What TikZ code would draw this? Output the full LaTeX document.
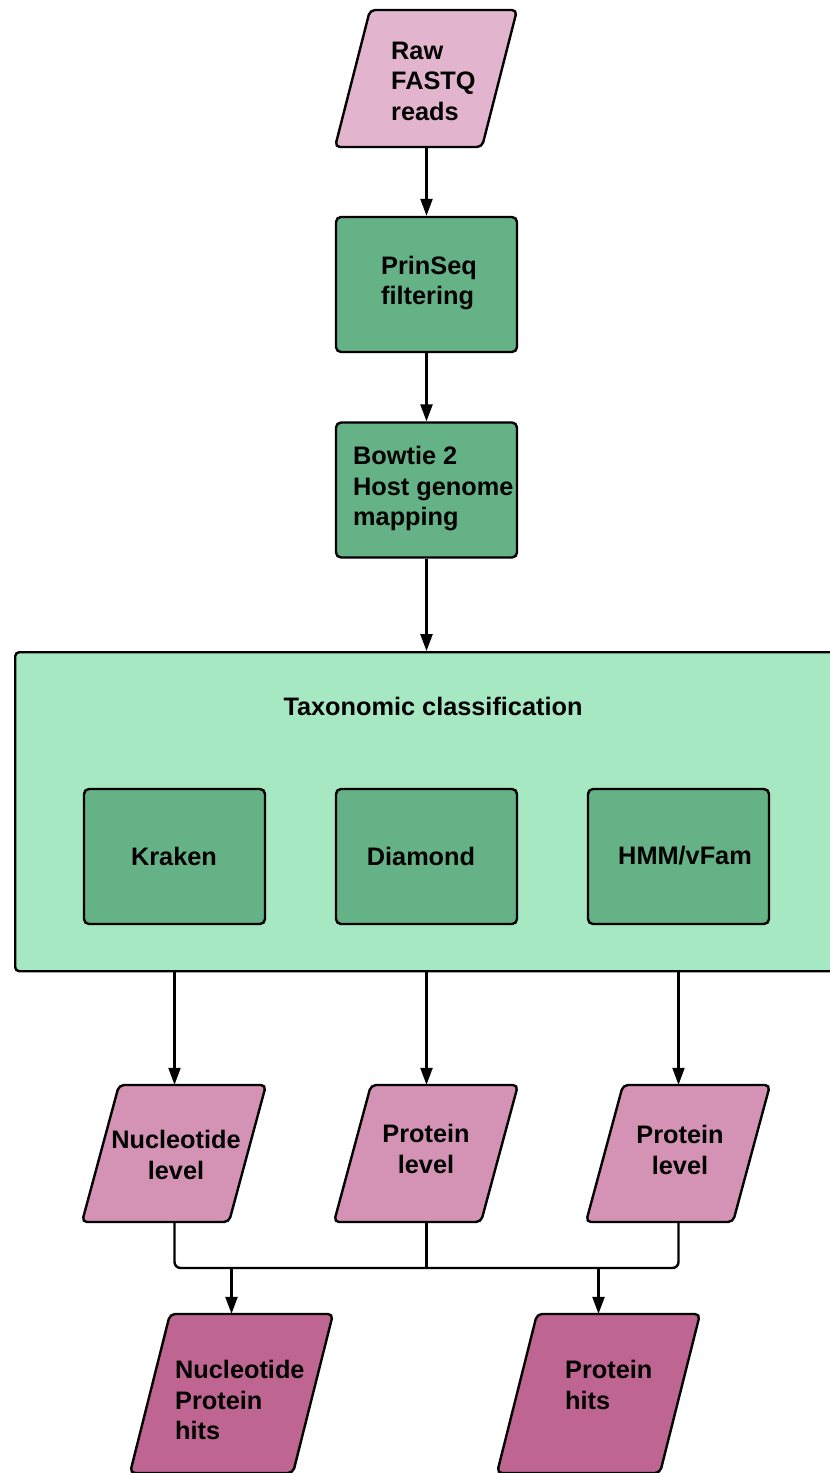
\documentclass[tikz,border=0pt]{standalone}
\usepackage{fontspec}
\setmainfont{Liberation Sans}
\usetikzlibrary{arrows.meta}
\definecolor{rawc}{HTML}{E2B4CD}
\definecolor{boxc}{HTML}{64B285}
\definecolor{taxc}{HTML}{A6E8C2}
\definecolor{midc}{HTML}{D493B5}
\definecolor{hitc}{HTML}{BF6592}
\newcommand{\paraShape}[6]{%
  \path[draw=black, line width=2.4pt, rounded corners=5pt, fill=#6]
    ({#1-#3/2+#5/2},{#2-#4/2}) -- ({#1+#3/2+#5/2},{#2-#4/2}) --
    ({#1+#3/2-#5/2},{#2+#4/2}) -- ({#1-#3/2-#5/2},{#2+#4/2}) -- cycle;}
\tikzset{
  box/.style={draw=black, line width=2.4pt, rounded corners=5pt, fill=boxc,
    minimum width=181pt, minimum height=135pt, inner sep=0pt},
  anch/.style 2 args={inner sep=0pt, minimum width=#1, minimum height=#2},
  lbl/.style={font=\fontsize{25.3}{30.5}\selectfont\bfseries, inner sep=0pt, align=left},
  arr/.style={line width=2.4pt, -{Triangle[length=17pt,width=12pt]}},
  arrthin/.style={line width=2.1pt, -{Triangle[length=17pt,width=12pt]}},
  conn/.style={line width=2.4pt},
}
\begin{document}
\begin{tikzpicture}[x=1pt,y=-1pt]
\useasboundingbox (0,0) rectangle (830,1473);
\clip (0,0) rectangle (830,1473);
\fill[white] (0,0) rectangle (830,1473);

% raw reads
\paraShape{426}{78.5}{147}{137}{35}{rawc}
\node[anch={147pt}{137pt}] (raw) at (426.5,78.5) {};
\node[lbl, anchor=west] (rawtxt) at (391,81) {Raw\\FASTQ\\reads};

% processing boxes
\node[box] (prin) at (426.5,284.5) {};
\node[lbl, anchor=west] (printxt) at (381,283) {PrinSeq\\filtering};
\node[box] (bow) at (426.5,490) {};
\node[lbl, anchor=west] (bowtxt) at (353,489) {Bowtie 2\\Host genome\\mapping};

% taxonomic classification
\node[draw=black, line width=2.4pt, rounded corners=4pt, fill=taxc, inner sep=0pt,
  minimum width=850pt, minimum height=319pt, anchor=north west] (tax) at (14,651) {};
\node[lbl] (taxtxt) at (433,706) {Taxonomic classification};
\node[box] (kraken) at (174.5,856.5) {};
\node[lbl] at (174,856) {Kraken};
\node[box] (diamond) at (426.5,856.5) {};
\node[lbl] at (421,856) {Diamond};
\node[box] (hmm) at (678.5,856.5) {};
\node[lbl] at (685,856) {HMM/vFam};

% middle outputs
\paraShape{174}{1153.5}{147}{137}{37}{midc}
\node[anch={147pt}{137pt}] (nl) at (174.5,1153.5) {};
\node[lbl, align=center] at (176,1155) {Nucleotide\\level};
\paraShape{426}{1153.5}{147}{137}{37}{midc}
\node[anch={147pt}{137pt}] (pl2) at (426.5,1153.5) {};
\node[lbl, align=center] at (426,1149) {Protein\\level};
\paraShape{678}{1153.5}{147}{137}{37}{midc}
\node[anch={147pt}{137pt}] (pl3) at (678.5,1153.5) {};
\node[lbl, align=center] at (680,1150) {Protein\\level};

% final hits
\paraShape{231.5}{1393.5}{163}{159}{40}{hitc}
\node[anch={163pt}{159pt}] (nph) at (231.5,1393.5) {};
\node[lbl, anchor=west] at (175,1400) {Nucleotide\\Protein\\hits};
\paraShape{598.5}{1393.5}{163}{159}{40}{hitc}
\node[anch={163pt}{159pt}] (ph) at (598.5,1393.5) {};
\node[lbl, anchor=west] at (565,1385) {Protein\\hits};

% connectors
\draw[arr] (raw.south) -- (prin.north);
\draw[arr] (prin.south) -- (bow.north);
\draw[arr] (bow.south) -- (bow.south |- tax.north);
\draw[arrthin] (kraken.south |- tax.south) -- (nl.north);
\draw[arr] (diamond.south |- tax.south) -- (pl2.north);
\draw[arrthin] (hmm.south |- tax.south) -- (pl3.north);
\coordinate (bus) at (0,1268);
\draw[conn, rounded corners=6pt] (nl.south) |- (pl3.south |- bus) -- (pl3.south);
\draw[conn] (pl2.south) -- (pl2.south |- bus);
\draw[arr] (nph.north |- bus) -- (nph.north);
\draw[arr] (ph.north |- bus) -- (ph.north);
\end{tikzpicture}
\end{document}
